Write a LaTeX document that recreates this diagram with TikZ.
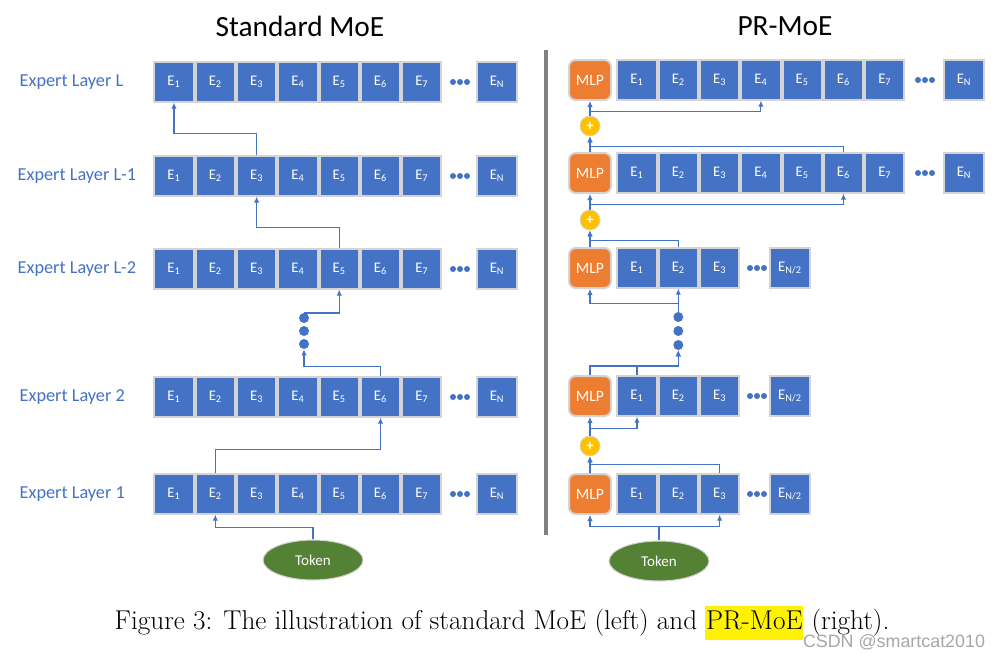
\documentclass[tikz,border=0pt]{standalone}
\usepackage{fontspec}
\usepackage{tikz}
\usetikzlibrary{shapes.geometric, arrows.meta}
\newfontfamily\carlito{Carlito}
\newfontfamily\wmfont{Liberation Sans}
\definecolor{moeblue}{HTML}{4472C4}
\definecolor{moeorange}{HTML}{ED7D31}
\definecolor{moegreen}{HTML}{548235}
\definecolor{moeyellow}{HTML}{FFC000}
\definecolor{boxgray}{HTML}{D4D4D4}
\definecolor{sepgray}{HTML}{808080}
\tikzstyle{expert} = [rectangle, minimum width=29.5pt, minimum height=29.5pt, inner sep=0pt, fill=moeblue, draw=boxgray, line width=1.5pt, text=white, font=\carlito\fontsize{11}{13}\selectfont]
\tikzstyle{mlp} = [rectangle, rounded corners=5pt, minimum width=31.5pt, minimum height=30pt, inner sep=0pt, fill=moeorange, draw=boxgray, line width=1.5pt, text=white, font=\carlito\fontsize{11.8}{13}\selectfont]
\tikzstyle{token} = [ellipse, minimum width=75pt, minimum height=30pt, fill=moegreen, draw=boxgray, line width=0.8pt, text=white, font=\carlito\fontsize{11.25}{13}\selectfont]
\tikzstyle{plus} = [circle, minimum size=15pt, inner sep=0pt, fill=moeyellow, draw=boxgray, line width=0.6pt, text=white, font=\carlito\bfseries\fontsize{11}{12}\selectfont]
\tikzstyle{vdot} = [circle, minimum size=7.5pt, inner sep=0pt, fill=moeblue]
\tikzstyle{layerlabel} = [anchor=west, text=moeblue, font=\carlito\fontsize{13.7}{16}\selectfont]
\tikzstyle{title} = [font=\carlito\fontsize{22}{26}\selectfont]
\tikzstyle{arrow} = [moeblue, line width=0.8pt, -{Latex[length=4.5pt,width=4pt]}]

\begin{document}
\begin{tikzpicture}[x=0.75pt, y=-0.75pt]
\useasboundingbox (0,0) rectangle (998,653);

% titles
\node (tA) [title] at (300,26) {Standard MoE};
\node (tB) [title] at (785,26) {PR-MoE};

% standard MoE rows
\foreach \row/\yy in {1/494, 2/397, 3/269, 4/176, 5/82} {
  \foreach \k in {1,...,7}
    \node (a\row e\k) [expert] at ({174+41.3*(\k-1)},\yy) {E\textsubscript{\k}};
  \node (a\row en) [expert] at (497,\yy) {E\textsubscript{N}};
  \foreach \dx in {-7,0,7}
    \fill[moeblue] (460+\dx,\yy) circle (3);
}

\node (la5) [layerlabel] at (15,82) {Expert Layer L};
\node (la4) [layerlabel] at (13,176) {Expert Layer L-1};
\node (la3) [layerlabel] at (13,269) {Expert Layer L-2};
\node (la2) [layerlabel] at (15,397) {Expert Layer 2};
\node (la1) [layerlabel] at (15,494) {Expert Layer 1};

\node (ad1) [vdot] at (304,344) {};
\node (ad2) [vdot] at (304,331) {};
\node (ad3) [vdot] at (304,318) {};

\node (tokA) [token] at (313,560) {Token};

% separator
\draw[sepgray, line width=2.5pt] (546,50) -- (546,535);

% PR-MoE rows
\foreach \row/\yy in {4/173, 5/80} {
  \node (b\row mlp) [mlp] at (590,\yy) {MLP};
  \foreach \k in {1,...,7}
    \node (b\row e\k) [expert] at ({637+41.3*(\k-1)},\yy) {E\textsubscript{\k}};
  \node (b\row en) [expert] at (964,\yy) {E\textsubscript{N}};
  \foreach \dx in {-7,0,7}
    \fill[moeblue] (925+\dx,\yy) circle (3);
}
\foreach \row/\yy in {1/494, 2/396, 3/268} {
  \node (b\row mlp) [mlp] at (590,\yy) {MLP};
  \foreach \k in {1,...,3}
    \node (b\row e\k) [expert] at ({637+41.3*(\k-1)},\yy) {E\textsubscript{\k}};
  \node (b\row en) [expert] at (790,\yy) {E\textsubscript{N/2}};
  \foreach \dx in {-7,0,7}
    \fill[moeblue] (757+\dx,\yy) circle (3);
}

\node (p1) [plus] at (590,446) {+};
\node (p2) [plus] at (590,220) {+};
\node (p3) [plus] at (590,126) {+};

\node (bd1) [vdot] at (678.3,345) {};
\node (bd2) [vdot] at (678.3,331) {};
\node (bd3) [vdot] at (678.3,317) {};

\node (tokB) [token] at (659,561) {Token};

% standard MoE routing
\draw [arrow] (tokA.north) -- ++(0,-12) -| (a1e2.south);
\draw [arrow] (a1e2.north) -- ++(0,-24) -| (a2e6.south);
\draw [arrow] (a2e6.north) -- ++(0,-10) -| (ad1.south);
\draw [arrow] ([yshift=3.75pt]ad3.center) -| (a3e5.south);
\draw [arrow] (a3e5.north) -- ++(0,-21) -| (a4e3.south);
\draw [arrow] (a4e3.north) -- ++(0,-22) -| (a5e1.south);

% PR-MoE routing
\draw [arrow] (tokB.north) -- ++(0,-14) -| (b1mlp.south);
\draw [arrow] (tokB.north) -- ++(0,-14) -| (b1e3.south);
\draw [arrow] (b1mlp.north) -- (p1.south);
\draw [arrow] (b1e3.north) -- ++(0,-9) -| (p1.south);
\draw [arrow] (p1.north) -- (b2mlp.south);
\draw [arrow] (p1.north) -- ++(0,-7) -| (b2e1.south);
\draw [arrow] (b2mlp.north) -- ++(0,-9) -| (bd1.south);
\draw [arrow] (b2e1.north) -- ++(0,-9) -| (bd1.south);
\draw [arrow] (bd3.north) -- (b3e2.south);
\draw [arrow] (bd3.north) -- ++(0,-8) -| (b3mlp.south);
\draw [arrow] (b3mlp.north) -- (p2.south);
\draw [arrow] (b3e2.north) -- ++(0,-7) -| (p2.south);
\draw [arrow] (p2.north) -- (b4mlp.south);
\draw [arrow] (p2.north) -- ++(0,-5) -| (b4e6.south);
\draw [arrow] (b4mlp.north) -- (p3.south);
\draw [arrow] (b4e6.north) -- ++(0,-6) -| (p3.south);
\draw [arrow] (p3.north) -- (b5mlp.south);
\draw [arrow] (p3.north) -- ++(0,-4) -| (b5e4.south);

% caption
\node (cap) at (502,623) {\fontsize{20.4}{24}\selectfont Figure 3: The illustration of standard MoE (left) and {\setlength{\fboxsep}{0.5pt}\colorbox{yellow}{\strut PR-MoE}} (right).};
\node (wm) [text=gray!70, font=\wmfont\fontsize{13.4}{15}\selectfont] at (894,642) {CSDN @smartcat2010};

\end{tikzpicture}
\end{document}
